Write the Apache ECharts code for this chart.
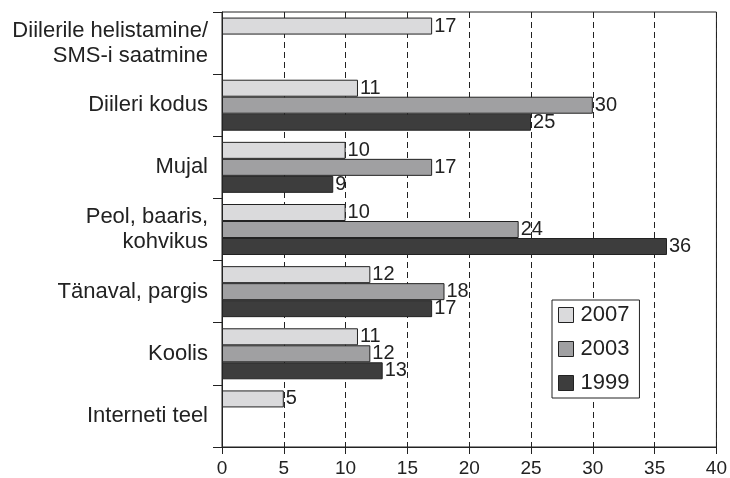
<!DOCTYPE html>
<html>
<head>
<meta charset="utf-8">
<script src="https://cdn.jsdelivr.net/npm/echarts@6/dist/echarts.min.js"></script>
<style>
  html, body { margin: 0; padding: 0; background: #fff; }
</style>
</head>
<body>
<div id="myChart" style="width: 730px; height: 478px;"></div>
<script>
// kategooriad ülevalt alla
const categories = [
  'Diilerile helistamine/\nSMS-i saatmine',
  'Diileri kodus',
  'Mujal',
  'Peol, baaris,\nkohvikus',
  'Tänaval, pargis',
  'Koolis',
  'Interneti teel'
]
const years = ['2007', '2003', '1999']
const values2007 = [17, 11, 10, 10, 12, 11, 5]
const values2003 = [null, 30, 17, 24, 18, 12, null]
const values1999 = [null, 25, 9, 36, 17, 13, null]
const xTicks = [0, 5, 10, 15, 20, 25, 30, 35, 40]

const colors = ['#dadadc', '#a0a0a2', '#3d3d3d']
const fontFamily = 'Liberation Sans, Arial, sans-serif'

function makeSeries (name, data, color) {
  return {
    name: name,
    type: 'bar',
    data: data,
    barWidth: 17,
    barGap: '0%',
    itemStyle: {
      color: color,
      borderColor: '#222',
      borderWidth: 1
    },
    label: {
      show: true,
      position: 'right',
      distance: 2,
      color: '#222',
      fontSize: 20,
      fontFamily: fontFamily
    }
  }
}

const option = {
  animation: false,
  backgroundColor: '#fff',
  grid: {
    left: 222,
    right: 10,
    top: 12,
    bottom: 29,
    show: true,
    borderColor: '#222',
    borderWidth: 1
  },
  legend: {
    show: true,
    orient: 'vertical',
    left: 552,
    top: 300,
    padding: [4, 10, 4, 6],
    itemGap: 12,
    itemWidth: 15,
    itemHeight: 15,
    borderColor: '#222',
    borderWidth: 1,
    backgroundColor: '#fff',
    icon: 'rect',
    textStyle: { fontSize: 22, color: '#222', fontFamily: fontFamily, padding: [0, 0, 0, 2] },
    itemStyle: { borderColor: '#222', borderWidth: 1 },
    data: years
  },
  xAxis: {
    type: 'value',
    min: xTicks[0],
    max: xTicks[xTicks.length - 1],
    interval: 5,
    axisLine: { show: true, lineStyle: { color: '#222' } },
    axisTick: { show: true, length: 7, lineStyle: { color: '#222' } },
    axisLabel: { color: '#222', fontSize: 19, margin: 12, fontFamily: fontFamily },
    splitLine: { show: true, lineStyle: { color: '#222', type: [6, 4], width: 1 } }
  },
  yAxis: {
    type: 'category',
    inverse: true,
    data: categories,
    axisLine: { show: true, lineStyle: { color: '#222' } },
    axisTick: { show: true, length: 9, lineStyle: { color: '#222' } },
    axisLabel: { color: '#222', fontSize: 22, margin: 14, lineHeight: 25, fontFamily: fontFamily, align: 'right' },
    splitLine: { show: false }
  },
  series: [
    makeSeries(years[0], values2007, colors[0]),
    makeSeries(years[1], values2003, colors[1]),
    makeSeries(years[2], values1999, colors[2])
  ]
}

let myChart = echarts.init(document.getElementById('myChart'))
myChart.setOption(option)
</script>
</body>
</html>
